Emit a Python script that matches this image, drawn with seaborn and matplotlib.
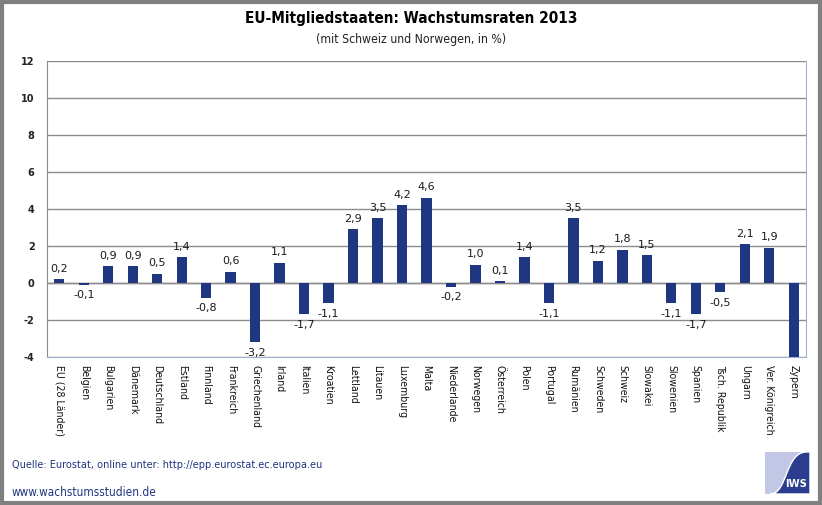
import numpy as np
import pandas as pd
import matplotlib.pyplot as plt
import seaborn as sns
from matplotlib.patches import Rectangle, PathPatch
from matplotlib.path import Path

# Daten
laender = ["EU (28 Länder)", "Belgien", "Bulgarien", "Dänemark", "Deutschland", "Estland",
           "Finnland", "Frankreich", "Griechenland", "Irland", "Italien", "Kroatien",
           "Lettland", "Litauen", "Luxemburg", "Malta", "Niederlande", "Norwegen",
           "Österreich", "Polen", "Portugal", "Rumänien", "Schweden", "Schweiz",
           "Slowakei", "Slowenien", "Spanien", "Tsch. Republik", "Ungarn",
           "Ver. Königreich", "Zypern"]
wachstum = [0.2, -0.1, 0.9, 0.9, 0.5, 1.4,
            -0.8, 0.6, -3.2, 1.1, -1.7, -1.1,
            2.9, 3.5, 4.2, 4.6, -0.2, 1.0,
            0.1, 1.4, -1.1, 3.5, 1.2, 1.8,
            1.5, -1.1, -1.7, -0.5, 2.1,
            1.9, -5.4]
y_ticks = [-4, -2, 0, 2, 4, 6, 8, 10, 12]

df = pd.DataFrame({"Land": laender, "Wachstum": wachstum})

sns.set_style("white")
plt.rcParams['font.family'] = ['DejaVu Sans']

blau = "#1f3680"
fig = plt.figure(figsize=(8.22, 5.05), dpi=100)
ax = fig.add_axes([47 / 822, 1 - 357 / 505, 759 / 822, 296 / 505])

sns.barplot(data=df, x="Land", y="Wachstum", color=blau, width=0.42,
            saturation=1, linewidth=0, ax=ax, zorder=3)

ax.set_ylim(-4, 12)
ax.set_xlim(-0.5, len(laender) - 0.5)
ax.set_yticks(y_ticks)
ax.set_yticklabels([str(t) for t in y_ticks], fontsize=7, fontweight='bold', color='#222222')
ax.yaxis.grid(True, color='#8c8c8c', linewidth=1.0, zorder=0)
ax.set_axisbelow(True)
ax.axhline(0, color='#8c8c8c', linewidth=1.0, zorder=1)
ax.set_xlabel("")
ax.set_ylabel("")
ax.tick_params(axis='y', length=0, pad=9)
ax.tick_params(axis='x', length=0, pad=6)
ax.set_xticks(range(len(laender)))
ax.set_xticklabels(laender, rotation=270, fontsize=7.6, ha='center', va='top', color='#111111',
                   fontstretch='condensed')

ax.spines['left'].set_color('#8c8c8c')
for side in ['right', 'bottom']:
    ax.spines[side].set_color('#9fb3cf')
ax.spines['top'].set_visible(False)

# Wertebeschriftung
for i, v in enumerate(wachstum):
    if v < -4:
        continue
    txt = f"{v:.1f}".replace(".", ",")
    if v >= 0:
        ax.annotate(txt, (i, v), xytext=(0, 4), textcoords='offset points',
                    ha='center', va='bottom', fontsize=8, color='#1a1a1a')
    else:
        ax.annotate(txt, (i, v), xytext=(0, -4), textcoords='offset points',
                    ha='center', va='top', fontsize=8, color='#1a1a1a')

fig.text(0.5, 1 - 18 / 505, "EU-Mitgliedstaaten: Wachstumsraten 2013", ha='center', va='center',
         fontsize=11, fontweight='bold', fontstretch='condensed', color='black')
fig.text(0.5, 1 - 40 / 505, "(mit Schweiz und Norwegen, in %)", ha='center', va='center',
         fontsize=8.8, fontstretch='condensed', color='#222222')

fig.text(12 / 822, 1 - 465 / 505, "Quelle: Eurostat, online unter: http://epp.eurostat.ec.europa.eu",
         ha='left', va='center', fontsize=7.8, color='#1f3680', fontstretch='condensed')
fig.text(12 / 822, 1 - 493 / 505, "www.wachstumsstudien.de",
         ha='left', va='center', fontsize=8.5, color='#1f3680', fontstretch='condensed')

# Logo
lx, ly, lw, lh = 765 / 822, 1 - 494 / 505, 45 / 822, 42 / 505
fig.patches.append(Rectangle((lx, ly), lw, lh, transform=fig.transFigure,
                             facecolor='#c3c7e6', edgecolor='none'))
verts = [(lx + 0.92 * lw, ly + lh), (lx + 0.45 * lw, ly + lh), (lx + 0.5 * lw, ly),
         (lx + 0.12 * lw, ly), (lx + lw, ly), (lx + lw, ly + lh), (lx + 0.92 * lw, ly + lh)]
codes = [Path.MOVETO, Path.CURVE4, Path.CURVE4, Path.CURVE4, Path.LINETO, Path.LINETO,
         Path.CLOSEPOLY]
fig.patches.append(PathPatch(Path(verts, codes), transform=fig.transFigure,
                             facecolor='#2a3d8f', edgecolor='white', linewidth=1))
fig.text(lx + 0.68 * lw, ly + 0.24 * lh, "IWS", ha='center', va='center', color='white',
         fontsize=8, fontweight='bold', fontstretch='condensed')

# Rahmen
fig.patches.append(Rectangle((0.002, 0.003), 0.996, 0.994, transform=fig.transFigure,
                             facecolor='none', edgecolor='#808080', linewidth=3))

fig.savefig("out.png", dpi=100)
